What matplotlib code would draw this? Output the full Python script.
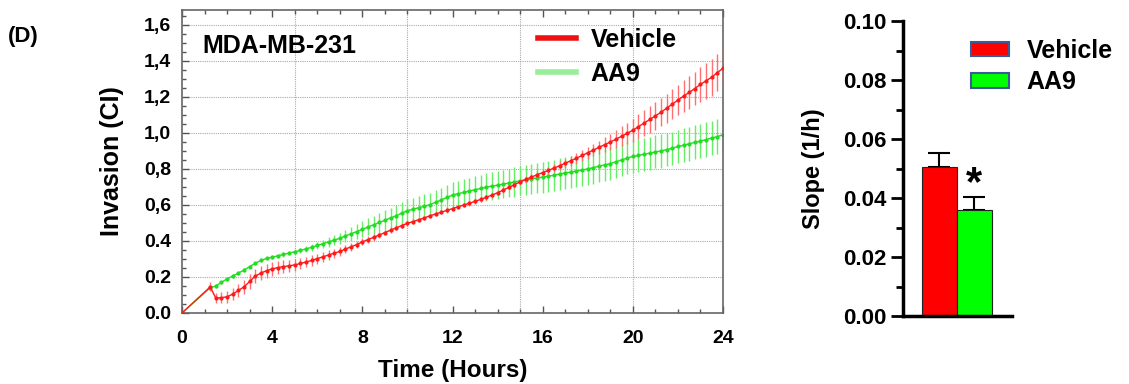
import matplotlib
matplotlib.use('Agg')
import matplotlib.pyplot as plt
from matplotlib.lines import Line2D
from matplotlib.patches import Patch
from matplotlib.ticker import MultipleLocator

plt.rcParams['font.family'] = ['Liberation Sans', 'DejaVu Sans']
plt.rcParams['font.weight'] = 'bold'

# ---- Invasion curves (CI), 15 min sampling ----
time_h = [0.0,
          1.25,
          1.5, 1.75,
          2.0, 2.25, 2.5, 2.75,
          3.0, 3.25, 3.5, 3.75,
          4.0, 4.25, 4.5, 4.75,
          5.0, 5.25, 5.5, 5.75,
          6.0, 6.25, 6.5, 6.75,
          7.0, 7.25, 7.5, 7.75,
          8.0, 8.25, 8.5, 8.75,
          9.0, 9.25, 9.5, 9.75,
          10.0, 10.25, 10.5, 10.75,
          11.0, 11.25, 11.5, 11.75,
          12.0, 12.25, 12.5, 12.75,
          13.0, 13.25, 13.5, 13.75,
          14.0, 14.25, 14.5, 14.75,
          15.0, 15.25, 15.5, 15.75,
          16.0, 16.25, 16.5, 16.75,
          17.0, 17.25, 17.5, 17.75,
          18.0, 18.25, 18.5, 18.75,
          19.0, 19.25, 19.5, 19.75,
          20.0, 20.25, 20.5, 20.75,
          21.0, 21.25, 21.5, 21.75,
          22.0, 22.25, 22.5, 22.75,
          23.0, 23.25, 23.5, 23.75,
          24.0]

vehicle_ci = [0.0,
              0.145,
              0.083, 0.085,
              0.09, 0.105, 0.125, 0.145,
              0.175, 0.205, 0.222, 0.235,
              0.245, 0.252, 0.258, 0.262,
              0.267, 0.275, 0.283, 0.292,
              0.302, 0.312, 0.322, 0.332,
              0.342, 0.355, 0.368, 0.38,
              0.395, 0.408, 0.42, 0.433,
              0.447, 0.46, 0.473, 0.486,
              0.498, 0.508, 0.518, 0.528,
              0.54, 0.55, 0.56, 0.57,
              0.58, 0.59, 0.60, 0.61,
              0.62, 0.631, 0.643, 0.655,
              0.668, 0.683, 0.698, 0.713,
              0.728, 0.742, 0.755, 0.768,
              0.78, 0.792, 0.805, 0.818,
              0.832, 0.846, 0.86, 0.875,
              0.89, 0.905, 0.92, 0.935,
              0.95, 0.965, 0.982, 0.998,
              1.015, 1.035, 1.055, 1.075,
              1.095, 1.115, 1.138, 1.16,
              1.183, 1.205, 1.225, 1.247,
              1.27, 1.29, 1.31, 1.335,
              1.36]

vehicle_err = [0.0,
               0.025,
               0.03, 0.03,
               0.032, 0.034, 0.036, 0.038,
               0.04, 0.04, 0.04, 0.038,
               0.037, 0.036, 0.035, 0.034,
               0.033, 0.032, 0.03, 0.029,
               0.028, 0.027, 0.026, 0.025,
               0.024, 0.023, 0.022, 0.021,
               0.02, 0.019, 0.018, 0.017,
               0.016, 0.015, 0.014, 0.014,
               0.013, 0.013, 0.012, 0.012,
               0.012, 0.012, 0.012, 0.012,
               0.012, 0.012, 0.012, 0.013,
               0.013, 0.013, 0.014, 0.014,
               0.015, 0.015, 0.016, 0.016,
               0.017, 0.018, 0.019, 0.019,
               0.02, 0.021, 0.022, 0.024,
               0.026, 0.028, 0.03, 0.033,
               0.032, 0.035, 0.038, 0.042,
               0.046, 0.05, 0.055, 0.06,
               0.065, 0.068, 0.071, 0.074,
               0.076, 0.078, 0.08, 0.082,
               0.085, 0.088, 0.091, 0.094,
               0.097, 0.1, 0.102, 0.104,
               0.105]

aa9_ci = [0.0,
          0.14,
          0.15, 0.17,
          0.19, 0.205, 0.222, 0.238,
          0.258, 0.276, 0.292, 0.303,
          0.31, 0.318, 0.325, 0.333,
          0.34, 0.348, 0.356, 0.365,
          0.375, 0.385, 0.395, 0.405,
          0.415, 0.428, 0.44, 0.452,
          0.465, 0.478, 0.49, 0.503,
          0.515, 0.528, 0.54, 0.555,
          0.568, 0.577, 0.585, 0.593,
          0.602, 0.615, 0.628, 0.642,
          0.655, 0.663, 0.67, 0.678,
          0.685, 0.692, 0.699, 0.705,
          0.71, 0.716, 0.722, 0.728,
          0.735, 0.74, 0.745, 0.75,
          0.755, 0.76, 0.765, 0.772,
          0.778, 0.783, 0.788, 0.795,
          0.80, 0.808, 0.815, 0.823,
          0.83, 0.84, 0.85, 0.86,
          0.87, 0.875, 0.882, 0.888,
          0.895, 0.9, 0.908, 0.915,
          0.925, 0.932, 0.94, 0.948,
          0.955, 0.963, 0.972, 0.98,
          0.99]

aa9_err = [0.0,
           0.01,
           0.01, 0.01,
           0.01, 0.01, 0.01, 0.01,
           0.01, 0.01, 0.01, 0.01,
           0.01, 0.011, 0.012, 0.013,
           0.014, 0.015, 0.017, 0.019,
           0.021, 0.023, 0.026, 0.029,
           0.032, 0.035, 0.038, 0.041,
           0.044, 0.047, 0.05, 0.053,
           0.055, 0.057, 0.059, 0.061,
           0.063, 0.064, 0.065, 0.066,
           0.067, 0.068, 0.069, 0.07,
           0.07, 0.071, 0.072, 0.073,
           0.074, 0.075, 0.076, 0.077,
           0.078, 0.079, 0.08, 0.081,
           0.082, 0.083, 0.084, 0.085,
           0.086, 0.086, 0.087, 0.087,
           0.088, 0.088, 0.089, 0.089,
           0.09, 0.09, 0.09, 0.09,
           0.09, 0.09, 0.09, 0.09,
           0.09, 0.09, 0.091, 0.091,
           0.092, 0.092, 0.093, 0.093,
           0.094, 0.094, 0.095, 0.095,
           0.096, 0.096, 0.097, 0.097,
           0.098]

# ---- Slope bar chart ----
groups = ['Vehicle', 'AA9']
slope = [0.0505, 0.0358]
slope_err = [0.0048, 0.0045]

x_ticks = [0, 4, 8, 12, 16, 20, 24]
y_ticks = [0.0, 0.2, 0.4, 0.6, 0.8, 1.0, 1.2, 1.4, 1.6]
y_labels = ['0.0', '0.2', '0.4', '0,6', '0,8', '1,0', '1,2', '1,4', '1,6']
grid_hours = [5, 10, 15, 20]

fig = plt.figure(figsize=(11.29, 3.84), dpi=100)

#-------------------Curve panel-------------------#
ax = fig.add_axes([0.1612, 0.1849, 0.4792, 0.789])
ax.errorbar(time_h, vehicle_ci, yerr=vehicle_err, fmt='-o', color='#ff1a1a',
            ms=2, lw=1, ecolor='#ff7070', elinewidth=1, capsize=0, zorder=3)
ax.errorbar(time_h, aa9_ci, yerr=aa9_err, fmt='-o', color='#22dd22',
            ms=2, lw=1, ecolor='#66ee66', elinewidth=1, capsize=0, zorder=2)

ax.set_xlim(0, 24)
ax.set_ylim(0, 1.683)
ax.set_xticks(x_ticks)
ax.xaxis.set_minor_locator(MultipleLocator(1))
ax.set_yticks(y_ticks)
ax.set_yticklabels(y_labels)
ax.yaxis.set_minor_locator(MultipleLocator(0.05))
ax.tick_params(which='both', direction='in', top=True, colors='#555555',
               labelcolor='black', labelsize=14, width=1)
ax.tick_params(which='major', length=5)
ax.tick_params(which='minor', length=3)
ax.tick_params(axis='x', pad=12)
ax.tick_params(axis='y', pad=8)
for s in ax.spines.values():
    s.set_color('#666666')
    s.set_linewidth(1.2)

ax.grid(axis='y', which='major', color='#aaaaaa', ls=(0, (1, 1)), lw=0.8)
ax.vlines(grid_hours, 0, 1.683, colors='#aaaaaa', linestyles=(0, (1, 1)), lw=0.8, zorder=1)

ax.set_xlabel('Time (Hours)', fontsize=17.5, fontweight='bold', labelpad=9)
ax.set_ylabel('Invasion (CI)', fontsize=18, fontweight='bold', labelpad=14)
ax.text(0.037, 0.88, 'MDA-MB-231', transform=ax.transAxes, fontsize=18,
        fontweight='bold', va='center', ha='left')

leg_handles = [Line2D([], [], color='#ee1111', lw=4),
               Line2D([], [], color='#99ee99', lw=4)]
ax.legend(leg_handles, groups, loc='upper left', bbox_to_anchor=(0.64, 0.975),
          frameon=False, prop={'size': 18, 'weight': 'bold'},
          handlelength=1.5, handletextpad=0.6, labelspacing=0.4,
          borderpad=0.2, borderaxespad=0.2)

fig.text(0.007, 0.905, '(D)', fontsize=16, fontweight='bold', va='center')

#-------------------Slope panel-------------------#
bx = fig.add_axes([0.7998, 0.177, 0.0965, 0.768])
bx.bar([1, 2], slope, width=1, color=['#ff0000', '#00ff00'],
       edgecolor='#222222', lw=0.8, zorder=2)
bx.errorbar([1, 2], slope, yerr=[[0, 0], slope_err], fmt='none',
            ecolor='black', elinewidth=1.5, capsize=8, capthick=1.5, zorder=1)
bx.text(2, slope[1] + slope_err[1] + 0.0045, '*', ha='center', va='center',
        fontsize=30, fontweight='bold')

bx.set_xlim(-0.04, 3.07)
bx.set_ylim(0, 0.1)
bx.set_yticks([0.0, 0.02, 0.04, 0.06, 0.08, 0.10])
bx.set_yticklabels(['0.00', '0.02', '0.04', '0.06', '0.08', '0.10'])
bx.yaxis.set_minor_locator(MultipleLocator(0.01))
bx.set_xticks([])
bx.tick_params(axis='y', which='both', direction='out', width=2, labelsize=16)
bx.tick_params(axis='y', which='major', length=9, pad=3)
bx.tick_params(axis='y', which='minor', length=5)
bx.spines['top'].set_visible(False)
bx.spines['right'].set_visible(False)
bx.spines['left'].set_linewidth(2.5)
bx.spines['bottom'].set_linewidth(2.5)
bx.set_ylabel('Slope (1/h)', fontsize=17, fontweight='bold', labelpad=13)

bar_handles = [Patch(facecolor='#ff0000', edgecolor='#3b5a9a', lw=1.5),
               Patch(facecolor='#00ff00', edgecolor='#3b5a9a', lw=1.5)]
bx.legend(bar_handles, groups, loc='upper left', bbox_to_anchor=(0.62, 0.94),
          frameon=False, prop={'size': 18, 'weight': 'bold'},
          handlelength=1.55, handleheight=0.5, handletextpad=0.7,
          labelspacing=0.3, borderpad=0, borderaxespad=0)

plt.savefig('out.png', dpi=100)
